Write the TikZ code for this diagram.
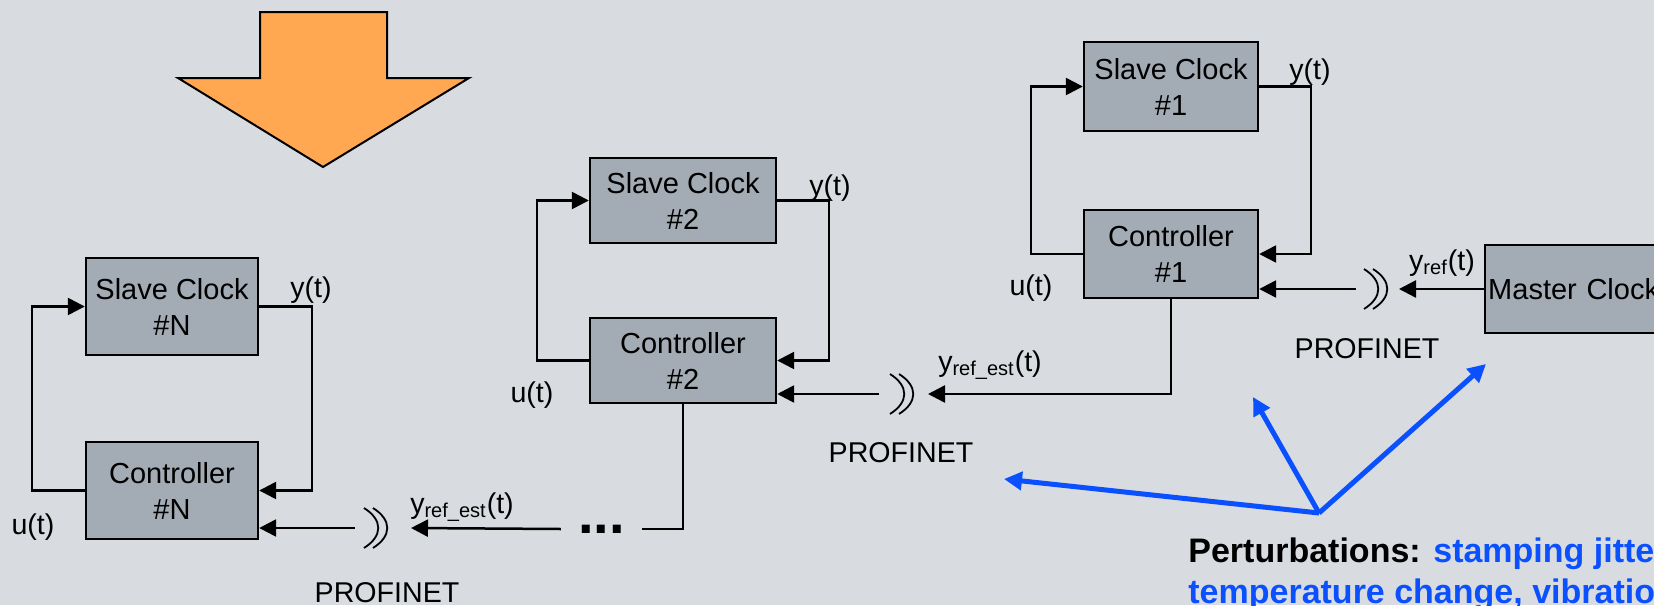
\documentclass[tikz,border=0pt]{standalone}
\usepackage{fontspec}
\setmainfont{Liberation Sans}
\usetikzlibrary{arrows.meta,calc}
\definecolor{bggray}{HTML}{D8DCE0}
\definecolor{boxgray}{HTML}{A3ACB5}
\definecolor{arroworange}{HTML}{FFA851}
\definecolor{perturbblue}{HTML}{0A50FF}

\tikzset{
  block/.style={draw=black,line width=1.2pt,fill=boxgray,align=center,inner sep=0pt,
    font=\fontsize{14.5}{18}\selectfont},
  wire/.style={line width=1.25pt},
  sig/.style={wire,-{Triangle[length=8.5pt,width=8.5pt]}},
  lbl/.style={inner sep=0pt,font=\fontsize{14.3}{16.5}\selectfont},
  perturb/.style={perturbblue,line width=2.5pt,-{Triangle[length=9pt,width=9pt]}},
  radio/.pic={
    \draw[line width=0.9pt] (-12,20) .. controls (7,8) and (7,-8) .. (-12,-20);
    \draw[line width=0.9pt] (-3,20) .. controls (16,8) and (16,-8) .. (-3,-20);
  }
}

\begin{document}
\begin{tikzpicture}[x=0.5pt,y=0.5pt]
  \useasboundingbox (0,0) rectangle (1654,-605);
  \clip (0,0) rectangle (1654,-605);
  \fill[bggray] (0,0) rectangle (1654,-605);

  \draw[line width=1pt,fill=arroworange,line join=miter] (260,-12) -- (387,-12) -- (387,-78)
    -- (469,-78) -- (323,-167) -- (178,-78) -- (260,-78) -- cycle;

  % loop N
  \node[block,minimum width=86pt,minimum height=48.5pt] (slaveN) at (172,-306.5) {Slave Clock\\\#N};
  \node[block,minimum width=86pt,minimum height=48.5pt] (ctrlN) at (172,-490.5) {Controller\\\#N};
  \draw[sig] (ctrlN.west) -- ++(-53,0) |- (slaveN.west);
  \draw[sig] (slaveN.east) -- ++(53,0) |- (ctrlN.east);
  \coordinate (wN) at (376,-528);
  \pic at (wN) {radio};
  \draw[sig] ($(wN)+(-21,0)$) -- (wN -| ctrlN.east);
  \node[lbl] (yN) at (311,-290) {y(t)};
  \node[lbl] (uN) at (33,-527) {u(t)};
  \node[lbl] (yrefN) at (462,-507) {y\textsubscript{ref\_est}(t)};
  \node[lbl] (netN) at (387,-593) {PROFINET};
  \node[inner xsep=8.5pt,inner ysep=0pt,font=\bfseries\fontsize{28}{30}\selectfont] (dots) at (601.5,-529) {...};
  \draw[sig] (dots.west) -- ($(wN)+(35,0)$);

  % loop 2
  \node[block,minimum width=93pt,minimum height=42.5pt] (slave2) at (683,-200.5) {Slave Clock\\\#2};
  \node[block,minimum width=93pt,minimum height=42.5pt] (ctrl2) at (683,-360.5) {Controller\\\#2};
  \draw[sig] (ctrl2.west) -- ++(-52,0) |- (slave2.west);
  \draw[sig] (slave2.east) -- ++(52,0) |- (ctrl2.east);
  \coordinate (w2) at (902,-394);
  \pic at (w2) {radio};
  \draw[sig] ($(w2)+(-23,0)$) -- (w2 -| ctrl2.east);
  \draw[wire] (ctrl2.south) |- (dots.east);
  \node[lbl] (y2) at (830,-188) {y(t)};
  \node[lbl] (u2) at (532,-395) {u(t)};
  \node[lbl] (yref2) at (990,-365) {y\textsubscript{ref\_est}(t)};
  \node[lbl] (net2) at (901,-453) {PROFINET};

  % loop 1
  \node[block,minimum width=87pt,minimum height=44.5pt] (slave1) at (1171,-86.5) {Slave Clock\\\#1};
  \node[block,minimum width=87pt,minimum height=44pt] (ctrl1) at (1171,-254) {Controller\\\#1};
  \draw[sig] (ctrl1.west) -- ++(-52,0) |- (slave1.west);
  \draw[sig] (slave1.east) -- ++(52,0) |- (ctrl1.east);
  \coordinate (w1) at (1376,-289);
  \pic at (w1) {radio};
  \draw[sig] ($(w1)+(-20,0)$) -- (w1 -| ctrl1.east);
  \draw[sig] (ctrl1.south) |- ($(w2)+(26,0)$);
  \node[lbl] (y1) at (1310,-72) {y(t)};
  \node[lbl] (u1) at (1031,-288) {u(t)};
  \node[lbl] (yref1) at (1442,-263) {y\textsubscript{ref}(t)};
  \node[lbl] (net1) at (1367,-349) {PROFINET};

  \node[block,anchor=west,minimum height=44pt,text width=156pt,align=left,inner xsep=1.5pt] (master) at (1484,-289) {Master Clock};
  \draw[sig] (master.west) -- ($(w1)+(23,0)$);

  % perturbations
  \coordinate (hub) at (1319,-513);
  \coordinate (toNet2) at (1004,-479);
  \coordinate (toNet1) at (1253,-397);
  \coordinate (toMaster) at (1486,-364);
  \draw[perturb] (hub) -- (toNet2);
  \draw[perturb] (hub) -- (toNet1);
  \draw[perturb] (hub) -- (toMaster);
  \node[anchor=north west,inner sep=0pt,align=left,font=\bfseries\fontsize{17}{20.5}\selectfont] (pert) at (1188,-537)
    {Perturbations: \textcolor{perturbblue}{stamping jitter,}\\\textcolor{perturbblue}{temperature change, vibration}};
\end{tikzpicture}
\end{document}
